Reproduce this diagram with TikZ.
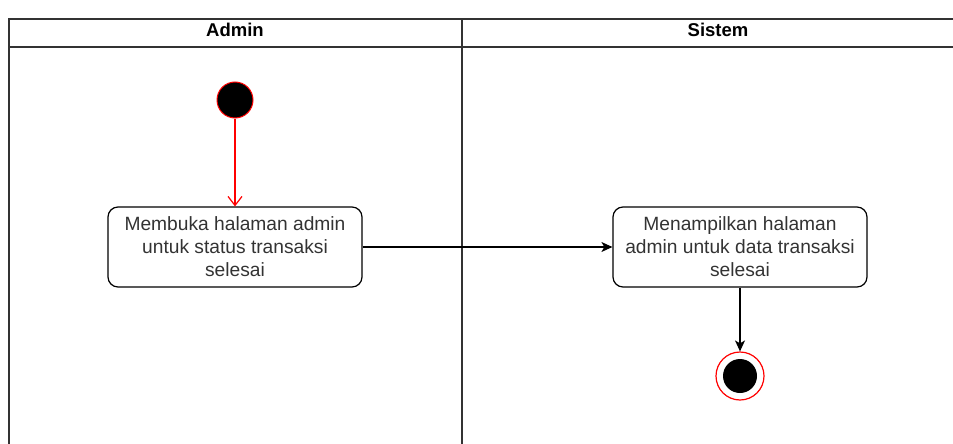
\documentclass[tikz,border=0pt]{standalone}
\usepackage{fontspec}
\setmainfont{Liberation Sans}
\usetikzlibrary{arrows.meta, positioning}
\definecolor{garis}{HTML}{333333}
\definecolor{teks}{HTML}{333333}

\begin{document}
\begin{tikzpicture}[x=1pt, y=-1pt, node distance = 147pt, on grid,
    lane/.style = {draw=garis, line width=1.4pt},
    judul/.style = {font=\bfseries\fontsize{18.5}{21}\selectfont},
    mulai/.style = {circle, fill=black, draw=red, line width=1pt, minimum size=36pt, inner sep=0pt},
    akhir/.style = {circle, draw=red, line width=1.2pt, minimum size=48pt, inner sep=0pt,
      path picture={\fill[black] (path picture bounding box.center) circle (17pt);}},
    aksi/.style = {draw=black, rounded corners=10pt, line width=1.2pt, minimum width=254pt,
      minimum height=80pt, align=center, text=teks,
      font=\fontsize{19.2}{23}\selectfont},
    alur/.style = {-{Stealth[length=11pt, width=10pt, inset=3pt]}, line width=1.2pt}]
  \useasboundingbox (0,0) rectangle (953,444);
  % swimlane
  \draw[lane] (9,444) -- (9,19) -- (953,19);
  \draw[lane] (9,47) -- (953,47);
  \draw[lane] (462,19) -- (462,444);
  \node[judul] (admin) at (235,30) {Admin};
  \node[judul] (sistem) at (718,30) {Sistem};
  % aktivitas
  \node[mulai] (mulai) at (235,100) {};
  \node[aksi] (buka) [below =of mulai] {Membuka halaman admin\\untuk status transaksi\\selesai};
  \node[aksi] (tampil) [right =505pt of buka] {Menampilkan halaman\\admin untuk data transaksi\\selesai};
  \node[akhir] (akhir) [below =129pt of tampil] {};
  \draw[red, line width=1.2pt, -{Straight Barb[length=9pt, width=14pt]}] (mulai) -- (buka);
  \draw[alur] (buka) -- (tampil);
  \draw[alur] (tampil) -- (akhir);
\end{tikzpicture}
\end{document}
